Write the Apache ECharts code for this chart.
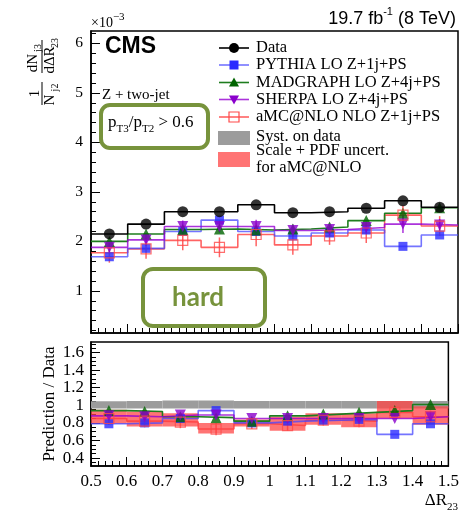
<!DOCTYPE html>
<html>
<head>
<meta charset="utf-8">
<script src="https://cdn.jsdelivr.net/npm/echarts@6/dist/echarts.min.js"></script>
<style>
html,body{margin:0;padding:0;background:#fff;}
#chart{width:462px;height:519px;}
</style>
</head>
<body>
<div id="chart"></div>
<script>
// Binning in ΔR23
const binEdges   = [0.5, 0.6, 0.7, 0.8, 0.9, 1.0, 1.1, 1.2, 1.3, 1.4, 1.5];
const binCenters = [0.55, 0.65, 0.75, 0.85, 0.95, 1.05, 1.15, 1.25, 1.35, 1.45];

// 1/N dN/dΔR23 (×10^-3)
const dataVals     = [2.15, 2.35, 2.60, 2.60, 2.74, 2.58, 2.60, 2.67, 2.82, 2.69];
const pythiaVals   = [1.69, 1.86, 2.20, 2.43, 2.20, 2.11, 2.17, 2.23, 1.90, 2.13];
const madgraphVals = [2.00, 2.15, 2.24, 2.25, 2.23, 2.25, 2.29, 2.42, 2.57, 2.68];
const sherpaVals   = [1.88, 2.03, 2.30, 2.30, 2.30, 2.22, 2.24, 2.28, 2.35, 2.33];
const amcVals      = [1.77, 1.85, 2.02, 1.88, 2.14, 1.93, 2.11, 2.17, 2.53, 2.31];
const amcErr       = [0.20, 0.20, 0.20, 0.20, 0.24, 0.20, 0.18, 0.20, 0.20, 0.20];
const sherpaErr    = [0.10, 0.12, 0.12, 0.12, 0.14, 0.12, 0.12, 0.12, 0.18, 0.12];

// Prediction / Data
const pythiaRatio   = [0.79, 0.80, 0.85, 0.94, 0.80, 0.82, 0.83, 0.84, 0.67, 0.79];
const madgraphRatio = [0.94, 0.93, 0.87, 0.86, 0.82, 0.88, 0.90, 0.92, 0.94, 1.01];
const sherpaRatio   = [0.88, 0.87, 0.89, 0.89, 0.85, 0.85, 0.85, 0.85, 0.85, 0.87];
const amcRatio      = [0.85, 0.82, 0.81, 0.73, 0.79, 0.77, 0.83, 0.82, 0.92, 0.87];
const amcRatioErr   = [0.07, 0.07, 0.07, 0.07, 0.06, 0.06, 0.06, 0.07, 0.07, 0.07];
const amcBandLo     = [0.79, 0.76, 0.76, 0.68, 0.76, 0.71, 0.78, 0.75, 0.85, 0.78];
const amcBandHi     = [0.95, 0.93, 0.91, 0.80, 0.84, 0.87, 0.91, 0.91, 1.05, 0.99];
const systLo        = [0.965, 0.965, 0.965, 0.965, 0.965, 0.965, 0.965, 0.965, 0.965, 0.965];
const systHi        = [1.045, 1.050, 1.055, 1.055, 1.050, 1.050, 1.050, 1.050, 1.050, 1.050];

// Tick labels
const mainYTicks  = [1, 2, 3, 4, 5, 6];
const ratioYTicks = [0.4, 0.6, 0.8, 1, 1.2, 1.4, 1.6];

const SERIF = '"Liberation Serif", "DejaVu Serif", serif';
const SANS  = '"Liberation Sans", Arial, sans-serif';
const OLIVE = '#77933c';

const C = {
  data: '#000000',
  pythiaLine: 'rgba(70,70,255,0.75)', pythia: '#2a2aff',
  madLine: '#1e7d1e', mad: '#006400',
  sherpaLine: 'rgba(150,0,210,0.8)', sherpa: '#8a00cc',
  amcLine: 'rgba(255,60,60,0.8)', amc: '#ff4a4a',
  band: 'rgba(255,70,70,0.75)', syst: '#9c9c9c'
};

function minorList(lo, hi, step) {
  const out = [];
  for (let v = lo; v <= hi + 1e-9; v += step) out.push(Math.round(v * 1000) / 1000);
  return out;
}

function stepPoints(vals) {
  const pts = vals.map((v, i) => [binEdges[i], v]);
  pts.push([binEdges[binEdges.length - 1], vals[vals.length - 1]]);
  return pts;
}

function stepLine(vals, color, axis, z) {
  return {
    type: 'line', step: 'end', xAxisIndex: axis, yAxisIndex: axis === 0 ? 0 : 2,
    data: stepPoints(vals), symbol: 'none', silent: true, z: z,
    lineStyle: { color: color, width: 1.6 }
  };
}

function markers(vals, axis, symbol, size, style, z, rotate) {
  return {
    type: 'scatter', xAxisIndex: axis, yAxisIndex: axis === 0 ? 0 : 2,
    data: vals.map((v, i) => [binCenters[i], v]),
    symbol: symbol, symbolSize: size, symbolRotate: rotate || 0,
    itemStyle: style, z: z, silent: true
  };
}

function errorBars(vals, errs, axis, color, z) {
  return {
    type: 'custom', xAxisIndex: axis, yAxisIndex: axis === 0 ? 0 : 2, z: z, silent: true,
    data: vals.map((v, i) => [binCenters[i], v - errs[i], v + errs[i]]),
    encode: { x: 0, y: [1, 2] },
    renderItem: function (params, api) {
      const a = api.coord([api.value(0), api.value(1)]);
      const b = api.coord([api.value(0), api.value(2)]);
      return { type: 'line', shape: { x1: a[0], y1: a[1], x2: b[0], y2: b[1] },
               style: { stroke: color, lineWidth: 1.5 } };
    }
  };
}

function bandSeries(lo, hi, fill, z) {
  return {
    type: 'custom', xAxisIndex: 1, yAxisIndex: 2, z: z, silent: true, clip: true,
    data: lo.map((l, i) => [binEdges[i], binEdges[i + 1], l, hi[i]]),
    encode: { x: [0, 1], y: [2, 3] },
    renderItem: function (params, api) {
      const p0 = api.coord([api.value(0), api.value(3)]);
      const p1 = api.coord([api.value(1), api.value(2)]);
      return { type: 'rect', shape: { x: p0[0], y: p0[1], width: p1[0] - p0[0], height: p1[1] - p0[1] },
               style: { fill: fill } };
    }
  };
}

const xBase = {
  type: 'value', min: 0.5, max: 1.5, interval: 0.1,
  axisLine: { show: true, lineStyle: { color: '#000', width: 1.5 } },
  axisTick: { inside: true, length: 9, lineStyle: { color: '#000', width: 1 } },
  minorTick: { show: true, splitNumber: 5, length: 5, lineStyle: { color: '#000', width: 1 } },
  splitLine: { show: false }, minorSplitLine: { show: false }
};

const option = {
  animation: false,
  backgroundColor: '#fff',
  grid: [
    { left: 91, top: 31, width: 367, height: 302, show: true, borderColor: '#000', borderWidth: 1.5, backgroundColor: 'transparent' },
    { left: 91, top: 342, width: 367, height: 124, show: true, borderColor: '#000', borderWidth: 1.5, backgroundColor: 'transparent' }
  ],
  xAxis: [
    Object.assign({}, xBase, { gridIndex: 0, axisLabel: { show: false } }),
    Object.assign({}, xBase, { gridIndex: 1, axisLabel: { show: true, color: '#000', fontFamily: SERIF, fontSize: 17, margin: 7, alignMaxLabel: 'center', alignMinLabel: 'center' } })
  ],
  yAxis: [
    { gridIndex: 0, type: 'value', min: 0.15, max: 6.25,
      axisLine: { show: true, lineStyle: { color: '#000', width: 1.5 } },
      axisTick: { inside: true, length: 9, customValues: mainYTicks, lineStyle: { color: '#000' } },
      axisLabel: { customValues: mainYTicks, color: '#000', fontFamily: SERIF, fontSize: 15.5, margin: 8 },
      splitLine: { show: false } },
    { gridIndex: 0, type: 'value', min: 0.15, max: 6.25, position: 'left',
      axisLine: { show: false },
      axisTick: { inside: true, length: 5, customValues: minorList(0.2, 6.2, 0.2), lineStyle: { color: '#000' } },
      axisLabel: { show: false }, splitLine: { show: false } },
    { gridIndex: 1, type: 'value', min: 0.31, max: 1.72,
      axisLine: { show: true, lineStyle: { color: '#000', width: 1.5 } },
      axisTick: { inside: true, length: 9, customValues: ratioYTicks, lineStyle: { color: '#000' } },
      axisLabel: { customValues: ratioYTicks, color: '#000', fontFamily: SERIF, fontSize: 17, margin: 7 },
      splitLine: { show: false } },
    { gridIndex: 1, type: 'value', min: 0.31, max: 1.72, position: 'left',
      axisLine: { show: false },
      axisTick: { inside: true, length: 5, customValues: minorList(0.35, 1.7, 0.05), lineStyle: { color: '#000' } },
      axisLabel: { show: false }, splitLine: { show: false } }
  ],
  series: [
    // main panel: histograms
    stepLine(amcVals, C.amcLine, 0, 3),
    stepLine(pythiaVals, C.pythiaLine, 0, 3),
    stepLine(madgraphVals, C.madLine, 0, 3),
    stepLine(sherpaVals, C.sherpaLine, 0, 3),
    stepLine(dataVals, C.data, 0, 4),
    errorBars(amcVals, amcErr, 0, C.amcLine, 5),
    errorBars(sherpaVals, sherpaErr, 0, C.sherpaLine, 5),
    markers(pythiaVals, 0, 'rect', 9, { color: C.pythia }, 6),
    markers(madgraphVals, 0, 'triangle', 11, { color: C.mad }, 6),
    markers(sherpaVals, 0, 'triangle', 11, { color: C.sherpa }, 7, 180),
    markers(amcVals, 0, 'rect', 10, { color: 'rgba(255,255,255,0)', borderColor: C.amc, borderWidth: 1.2 }, 7),
    markers(dataVals, 0, 'circle', 11, { color: '#000' }, 8),

    // ratio panel
    bandSeries(systLo, systHi, C.syst, 1),
    bandSeries(amcBandLo, amcBandHi, C.band, 2),
    stepLine(amcRatio, C.amcLine, 1, 3),
    stepLine(pythiaRatio, C.pythiaLine, 1, 3),
    stepLine(madgraphRatio, C.madLine, 1, 3),
    stepLine(sherpaRatio, C.sherpaLine, 1, 3),
    errorBars(amcRatio, amcRatioErr, 1, C.amcLine, 5),
    markers(pythiaRatio, 1, 'rect', 9, { color: C.pythia }, 6),
    markers(madgraphRatio, 1, 'triangle', 11, { color: C.mad }, 6),
    markers(sherpaRatio, 1, 'triangle', 11, { color: C.sherpa }, 7, 180),
    markers(amcRatio, 1, 'rect', 10, { color: 'rgba(255,255,255,0)', borderColor: C.amc, borderWidth: 1.2 }, 7)
  ],
  graphic: []
};

// ---- text and legend decorations ----
const g = option.graphic;
const R90 = Math.PI / 2;

function txt(x, y, text, font, opts) {
  g.push(Object.assign({ type: 'text', x: x, y: y, silent: true, z: 20,
    style: Object.assign({ text: text, fill: '#000', font: font, align: 'left', verticalAlign: 'middle' }, opts || {}) }));
}

// luminosity / energy label
g.push({ type: 'text', right: 6, top: 6, silent: true, z: 20,
  style: { text: '{a|19.7 fb}{s|-1}{a| (8 TeV)}', align: 'right',
    rich: { a: { fontFamily: SANS, fontSize: 18, lineHeight: 22, verticalAlign: 'bottom', fill: '#000' },
            s: { fontFamily: SANS, fontSize: 11, lineHeight: 22, verticalAlign: 'top', fill: '#000' } } } });

// exponent of the y axis
g.push({ type: 'text', x: 91, y: 12, silent: true, z: 20,
  style: { text: '{a|\u00d710}{s|\u22123}',
    rich: { a: { fontFamily: SERIF, fontSize: 14, lineHeight: 18, verticalAlign: 'bottom', fill: '#000' },
            s: { fontFamily: SERIF, fontSize: 11, lineHeight: 18, verticalAlign: 'top', fill: '#000' } } } });

// CMS
txt(105, 47, 'CMS', 'bold 23px ' + SANS);

// rotated y title of the main panel: 1/N_j2 dN_j3/dΔR_23
g.push({ type: 'group', x: 42, y: 105, rotation: R90, silent: true, z: 20, children: [
  { type: 'line', shape: { x1: 0, y1: 0, x2: 23, y2: 0 }, style: { stroke: '#000', lineWidth: 1 } },
  { type: 'text', x: 11.5, y: -7, style: { text: '1', font: '15px ' + SERIF, fill: '#000', align: 'center', verticalAlign: 'middle' } },
  { type: 'text', x: 5, y: 8, style: { text: 'N', font: '15px ' + SERIF, fill: '#000', align: 'center', verticalAlign: 'middle' } },
  { type: 'text', x: 17.5, y: 13, style: { text: 'j2', font: '10px ' + SERIF, fill: '#000', align: 'center', verticalAlign: 'middle' } },
  { type: 'line', shape: { x1: 32, y1: 0, x2: 65, y2: 0 }, style: { stroke: '#000', lineWidth: 1 } },
  { type: 'text', x: 42, y: -9, style: { text: 'dN', font: '15px ' + SERIF, fill: '#000', align: 'center', verticalAlign: 'middle' } },
  { type: 'text', x: 57, y: -4, style: { text: 'j3', font: '10px ' + SERIF, fill: '#000', align: 'center', verticalAlign: 'middle' } },
  { type: 'text', x: 45, y: 8, style: { text: 'd\u0394R', font: '15px ' + SERIF, fill: '#000', align: 'center', verticalAlign: 'middle' } },
  { type: 'text', x: 62, y: 13, style: { text: '23', font: '10px ' + SERIF, fill: '#000', align: 'center', verticalAlign: 'middle' } }
] });

// rotated y title of the ratio panel
g.push({ type: 'text', x: 50, y: 404, rotation: R90, silent: true, z: 20,
  style: { text: 'Prediction / Data', font: '17px ' + SERIF, fill: '#000', align: 'center', verticalAlign: 'middle' } });

// x axis title ΔR23
g.push({ type: 'text', right: 4, top: 492, silent: true, z: 20,
  style: { text: '{a|\u0394R}{s|23}', align: 'right',
    rich: { a: { fontFamily: SERIF, fontSize: 17, lineHeight: 21, verticalAlign: 'top', fill: '#000' },
            s: { fontFamily: SERIF, fontSize: 11, lineHeight: 21, verticalAlign: 'bottom', fill: '#000' } } } });

// selection annotations
txt(102, 95, 'Z + two-jet', '15px ' + SERIF);
g.push({ type: 'rect', shape: { x: 101, y: 105, width: 107, height: 43, r: 9 }, silent: true, z: 19,
  style: { fill: 'rgba(255,255,255,0)', stroke: OLIVE, lineWidth: 4 } });
g.push({ type: 'text', x: 108, y: 114, silent: true, z: 20,
  style: { text: '{a|p}{s|T3}{a|/p}{s|T2}{a| > 0.6}',
    rich: { a: { fontFamily: SERIF, fontSize: 17, lineHeight: 21, verticalAlign: 'top', fill: '#000' },
            s: { fontFamily: SERIF, fontSize: 11, lineHeight: 21, verticalAlign: 'bottom', fill: '#000' } } } });

g.push({ type: 'rect', shape: { x: 143, y: 269, width: 122, height: 57, r: 10 }, silent: true, z: 19,
  style: { fill: 'rgba(255,255,255,0)', stroke: OLIVE, lineWidth: 4 } });
g.push({ type: 'text', x: 198, y: 298, silent: true, z: 20,
  style: { text: 'hard', font: 'bold 26px Lato, "Open Sans", sans-serif', fill: OLIVE, align: 'center', verticalAlign: 'middle' } });

// legend
const legendX0 = 219, legendX1 = 249, legendMid = 234, legendTx = 256;
const LEGEND_FONT = '16.5px ' + SERIF;
const legendRows = [
  { y: 48, label: 'Data', line: '#000', shape: 'circle', color: '#000' },
  { y: 65, label: 'PYTHIA LO Z+1j+PS', line: C.pythiaLine, shape: 'square', color: C.pythia },
  { y: 82.5, label: 'MADGRAPH LO Z+4j+PS', line: C.madLine, shape: 'tri', color: C.mad },
  { y: 99.5, label: 'SHERPA LO Z+4j+PS', line: C.sherpaLine, shape: 'tridown', color: C.sherpa },
  { y: 117, label: 'aMC@NLO NLO Z+1j+PS', line: C.amcLine, shape: 'open', color: C.amc }
];
legendRows.forEach(function (r) {
  g.push({ type: 'line', shape: { x1: legendX0, y1: r.y, x2: legendX1, y2: r.y }, silent: true, z: 20,
    style: { stroke: r.line, lineWidth: 1.6 } });
  if (r.shape === 'circle') {
    g.push({ type: 'circle', shape: { cx: legendMid, cy: r.y, r: 5 }, silent: true, z: 21, style: { fill: r.color } });
  } else if (r.shape === 'square') {
    g.push({ type: 'rect', shape: { x: legendMid - 4.5, y: r.y - 4.5, width: 9, height: 9 }, silent: true, z: 21, style: { fill: r.color } });
  } else if (r.shape === 'open') {
    g.push({ type: 'rect', shape: { x: legendMid - 5, y: r.y - 5, width: 10, height: 10 }, silent: true, z: 21,
      style: { fill: 'rgba(255,255,255,0)', stroke: r.color, lineWidth: 1.2 } });
  } else if (r.shape === 'tri') {
    g.push({ type: 'polygon', shape: { points: [[legendMid, r.y - 5], [legendMid + 5, r.y + 4], [legendMid - 5, r.y + 4]] }, silent: true, z: 21, style: { fill: r.color } });
  } else {
    g.push({ type: 'polygon', shape: { points: [[legendMid, r.y + 5], [legendMid + 5, r.y - 4], [legendMid - 5, r.y - 4]] }, silent: true, z: 21, style: { fill: r.color } });
  }
  txt(legendTx, r.y, r.label, LEGEND_FONT);
});
g.push({ type: 'rect', shape: { x: 218, y: 131, width: 32, height: 14 }, silent: true, z: 20, style: { fill: C.syst } });
txt(legendTx, 137, 'Syst. on data', LEGEND_FONT);
g.push({ type: 'rect', shape: { x: 218, y: 152, width: 32, height: 15 }, silent: true, z: 20, style: { fill: C.band } });
txt(legendTx, 151, 'Scale + PDF uncert.', LEGEND_FONT);
txt(legendTx, 168, 'for aMC@NLO', LEGEND_FONT);

const chart = echarts.init(document.getElementById('chart'), null, { renderer: 'canvas' });
chart.setOption(option);
</script>
</body>
</html>
